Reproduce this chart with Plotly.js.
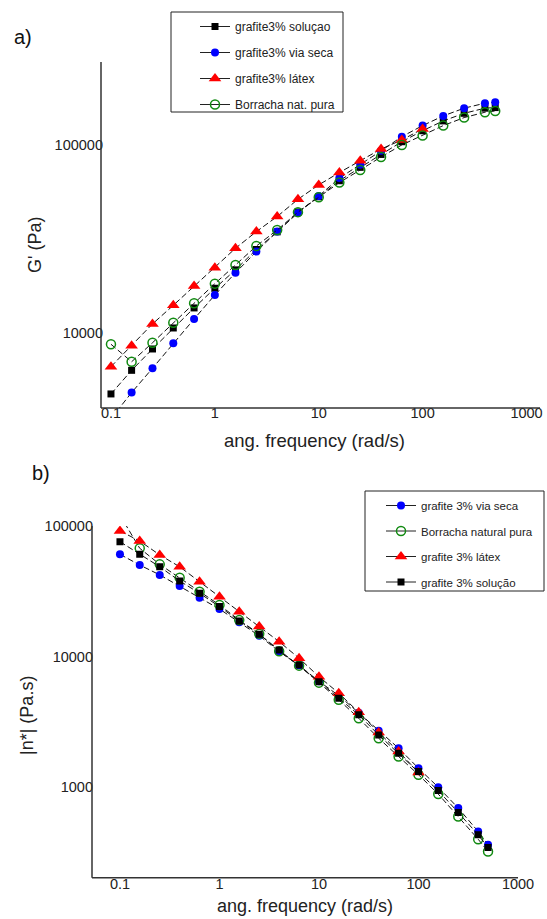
<!DOCTYPE html>
<html>
<head>
<meta charset="utf-8">
<script src="https://cdn.plot.ly/plotly-3.0.1.min.js"></script>
<style>html,body{margin:0;padding:0;background:#fff;}#chart{width:547px;height:919px;}</style>
</head>
<body>
<div id="chart"></div>
<script>
// angular frequency (rad/s)
const freq = [0.1, 0.158, 0.251, 0.398, 0.631, 1, 1.58, 2.51, 3.98, 6.31, 10, 15.8, 25.1, 39.8, 63.1, 100, 158, 251, 398, 500];
const freqLatex = freq.slice(0, 16);

// a) G' (Pa)
const gSolucao = [4740, 6330, 8220, 10630, 13590, 17290, 21650, 27800, 34500, 44000, 53000, 64500, 76000, 89000, 104000, 119000, 134200, 147300, 156800, 158000];
const gViaSeca = [3500, 4820, 6490, 8810, 11860, 15920, 20900, 27100, 34600, 43500, 53500, 66600, 78400, 93000, 110700, 126700, 142700, 156800, 166700, 168700];
const gLatex   = [6620, 8550, 11170, 14030, 17780, 22250, 28200, 34600, 41600, 51400, 61300, 71300, 82500, 95100, 106300, 121700];
const gPura    = [8710, 7030, 8870, 11340, 14380, 18290, 23000, 29000, 35300, 43900, 52700, 63100, 73600, 86300, 100000, 112100, 126700, 139800, 149200, 151600];

// b) |n*| (Pa.s)
const eViaSeca = [60700, 50200, 42200, 34700, 28200, 23100, 18300, 14400, 10900, 8550, 6450, 5010, 3700, 2700, 1980, 1390, 995, 688, 455, 360];
const ePura    = [121000, 67500, 50800, 40200, 31400, 24800, 19000, 14900, 10950, 8500, 6300, 4650, 3360, 2360, 1710, 1240, 881, 593, 397, 320];
const eLatex   = [91600, 76700, 60000, 48700, 37400, 28700, 22000, 17000, 12980, 9690, 7000, 5230, 3730, 2610, 1870, 1290];
const eSolucao = [75800, 60700, 48700, 37900, 30500, 24100, 18700, 14800, 11200, 8610, 6410, 4790, 3570, 2500, 1810, 1310, 937, 636, 429, 343];

const xTickVals = [0.1, 1, 10, 100, 1000];
const xTickText = ['0.1', '1', '10', '100', '1000'];
const yTickValsA = [10000, 100000];
const yTickTextA = ['10000', '100000'];
const yTickValsB = [1000, 10000, 100000];
const yTickTextB = ['1000', '10000', '100000'];

const W = 547, H = 919;
const px = v => v / W;
const py = v => 1 - v / H;

const lineStyle = {color: '#111', width: 1, dash: '6px,3px'};
const legLine = {color: '#222', width: 1};
const mk = {
  square: {symbol: 'square', size: 7, color: '#000'},
  blue: {symbol: 'circle', size: 8, color: '#0000ff'},
  red: {symbol: 'triangle-up', size: 11, color: '#ff0000'},
  green: {symbol: 'circle-open', size: 9, color: '#118a11', line: {width: 1.5, color: '#118a11'}}
};

function tr(x, y, name, marker, xa, ya) {
  return {x: x, y: y, name: name, type: 'scatter', mode: 'lines+markers',
    line: lineStyle, marker: marker, xaxis: xa, yaxis: ya, showlegend: false, cliponaxis: true};
}
// legend entries (solid line sample, no plotted points)
function lg(name, marker, xa, ya, leg, grp) {
  return {x: [null], y: [null], name: name, type: 'scatter', mode: 'lines+markers',
    line: legLine, marker: marker, xaxis: xa, yaxis: ya, legend: leg, legendgroup: grp, showlegend: true};
}

const data = [
  tr(freq, gSolucao, 'grafite3% soluçao', mk.square, 'x', 'y'),
  tr(freq, gViaSeca, 'grafite3% via seca', mk.blue, 'x', 'y'),
  tr(freqLatex, gLatex, 'grafite3% látex', mk.red, 'x', 'y'),
  tr(freq, gPura, 'Borracha nat. pura', mk.green, 'x', 'y'),
  tr(freq, eViaSeca, 'grafite 3% via seca', mk.blue, 'x2', 'y2'),
  tr(freq, ePura, 'Borracha natural pura', mk.green, 'x2', 'y2'),
  tr(freqLatex, eLatex, 'grafite 3% látex', mk.red, 'x2', 'y2'),
  tr(freq, eSolucao, 'grafite 3% solução', mk.square, 'x2', 'y2'),
  lg('grafite3% soluçao', mk.square, 'x', 'y', 'legend', 'a1'),
  lg('grafite3% via seca', mk.blue, 'x', 'y', 'legend', 'a2'),
  lg('grafite3% látex', mk.red, 'x', 'y', 'legend', 'a3'),
  lg('Borracha nat. pura', mk.green, 'x', 'y', 'legend', 'a4'),
  lg('grafite 3% via seca', mk.blue, 'x2', 'y2', 'legend2', 'b1'),
  lg('Borracha natural pura', mk.green, 'x2', 'y2', 'legend2', 'b2'),
  lg('grafite 3% látex', mk.red, 'x2', 'y2', 'legend2', 'b3'),
  lg('grafite 3% solução', mk.square, 'x2', 'y2', 'legend2', 'b4')
];

const axBase = {
  type: 'log', showline: false, mirror: false,
  showgrid: false, zeroline: false, ticks: '', automargin: false, anchor: 'free',
  tickfont: {family: 'Liberation Sans, Arial, sans-serif', size: 14.5, color: '#222'}
};

// plot-area pixel boxes (for domains and axis lines)
const A = {l: 101, r: 540, t: 62, b: 408};
const B = {l: 92, r: 518, t: 526, b: 877.7};
const axLine = (x0, y0, x1, y1) => ({type: 'line', xref: 'paper', yref: 'paper',
  x0: px(x0), y0: py(y0), x1: px(x1), y1: py(y1), line: {color: '#333', width: 1.5}, layer: 'above'});

const layout = {
  width: W, height: H,
  margin: {l: 0, r: 0, t: 0, b: 0},
  paper_bgcolor: '#fff', plot_bgcolor: '#fff',
  font: {family: 'Liberation Sans, Arial, sans-serif', color: '#222'},
  showlegend: true,
  xaxis: Object.assign({}, axBase, {domain: [px(A.l), px(A.r)], range: [-1.096, 3.13],
    position: py(A.b - 6), tickvals: xTickVals, ticktext: xTickText}),
  yaxis: Object.assign({}, axBase, {domain: [py(A.b), py(A.t)], range: [3.601, 5.441],
    position: px(A.l + 2), tickvals: yTickValsA, ticktext: yTickTextA}),
  xaxis2: Object.assign({}, axBase, {domain: [px(B.l), px(B.r)], range: [-1.281, 3.0],
    position: py(B.b - 4), tickvals: xTickVals, ticktext: xTickText}),
  yaxis2: Object.assign({}, axBase, {domain: [py(B.b), py(B.t)], range: [2.304, 5.0],
    position: px(B.l + 1), tickvals: yTickValsB, ticktext: yTickTextB}),
  legend: {x: px(195), y: py(12), xanchor: 'left', yanchor: 'top', bgcolor: 'rgba(0,0,0,0)',
    borderwidth: 0, font: {size: 12, color: '#222'}, traceorder: 'grouped', tracegroupgap: 7},
  legend2: {x: px(381), y: py(491), xanchor: 'left', yanchor: 'top', bgcolor: 'rgba(0,0,0,0)',
    borderwidth: 0, font: {size: 11.5, color: '#222'}, traceorder: 'grouped', tracegroupgap: 6.5},
  shapes: [
    {type: 'rect', xref: 'paper', yref: 'paper', x0: px(171), x1: px(343), y0: py(112), y1: py(12),
      line: {color: '#222', width: 1}, fillcolor: '#fff', layer: 'below'},
    {type: 'rect', xref: 'paper', yref: 'paper', x0: px(365), x1: px(544), y0: py(591), y1: py(491),
      line: {color: '#222', width: 1}, fillcolor: '#fff', layer: 'below'},
    axLine(A.l, A.b, A.r, A.b), axLine(A.l, A.t, A.l, A.b),
    axLine(B.l, B.b, B.r, B.b), axLine(B.l, B.t, B.l, B.b)
  ],
  annotations: [
    {text: 'a)', xref: 'paper', yref: 'paper', x: px(12), y: py(37), xanchor: 'left', yanchor: 'middle',
      showarrow: false, font: {size: 20, color: '#111'}},
    {text: 'b)', xref: 'paper', yref: 'paper', x: px(30), y: py(473), xanchor: 'left', yanchor: 'middle',
      showarrow: false, font: {size: 20, color: '#111'}},
    {text: 'ang. frequency (rad/s)', xref: 'paper', yref: 'paper', x: px(314.5), y: py(440),
      xanchor: 'center', yanchor: 'middle', showarrow: false, font: {size: 18.5, color: '#222'}},
    {text: 'ang. frequency (rad/s)', xref: 'paper', yref: 'paper', x: px(304.5), y: py(906),
      xanchor: 'center', yanchor: 'middle', showarrow: false, font: {size: 18, color: '#222'}},
    {text: "G' (Pa)", xref: 'paper', yref: 'paper', x: px(35), y: py(245), textangle: -90,
      xanchor: 'center', yanchor: 'middle', showarrow: false, font: {size: 18, color: '#222'}},
    {text: '|n*| (Pa.s)', xref: 'paper', yref: 'paper', x: px(27), y: py(716), textangle: -90,
      xanchor: 'center', yanchor: 'middle', showarrow: false, font: {size: 18, color: '#222'}}
  ]
};

Plotly.newPlot('chart', data, layout, {staticPlot: true, displayModeBar: false});
</script>
</body>
</html>
